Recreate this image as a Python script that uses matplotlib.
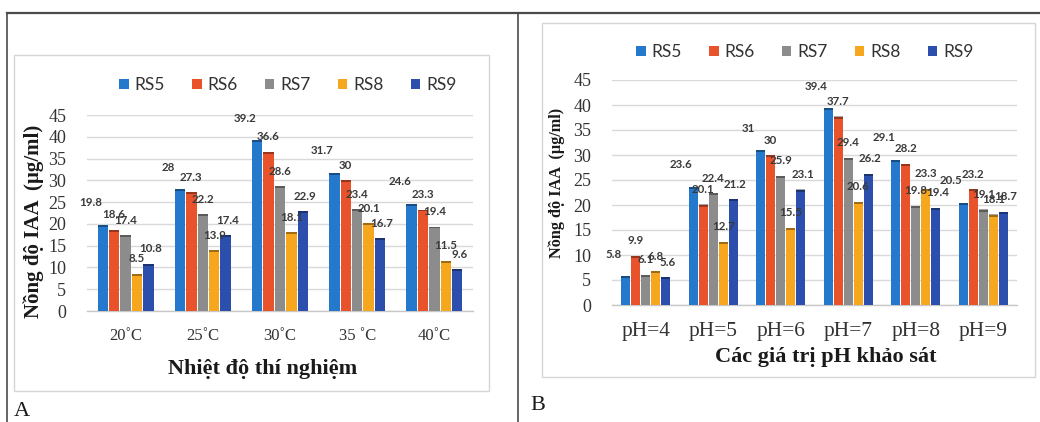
import matplotlib
matplotlib.use("Agg")
import matplotlib.pyplot as plt
from matplotlib.patches import Rectangle, Patch
from matplotlib.lines import Line2D
from matplotlib import font_manager
import numpy as np

# ---------------- data ----------------
series = ["RS5", "RS6", "RS7", "RS8", "RS9"]
colors = ["#2479cc", "#e8532b", "#8c8c8c", "#f7a71e", "#2c4fae"]

temp_labels = ["20˚C", "25˚C", "30˚C", "35 ˚C", "40˚C"]
temp_RS5 = [19.8, 28.0, 39.2, 31.7, 24.6]
temp_RS6 = [18.6, 27.3, 36.6, 30.0, 23.3]
temp_RS7 = [17.4, 22.2, 28.6, 23.4, 19.4]
temp_RS8 = [8.5, 13.9, 18.1, 20.1, 11.5]
temp_RS9 = [10.8, 17.4, 22.9, 16.7, 9.6]

ph_labels = ["pH=4", "pH=5", "pH=6", "pH=7", "pH=8", "pH=9"]
ph_RS5 = [5.8, 23.6, 31.0, 39.4, 29.1, 20.5]
ph_RS6 = [9.9, 20.1, 30.0, 37.7, 28.2, 23.2]
ph_RS7 = [6.1, 22.4, 25.9, 29.4, 19.8, 19.1]
ph_RS8 = [6.8, 12.7, 15.5, 20.6, 23.3, 18.1]
ph_RS9 = [5.6, 21.2, 23.1, 26.2, 19.4, 18.7]

yticks = [0, 5, 10, 15, 20, 25, 30, 35, 40, 45]

# ---------------- fonts ----------------
avail = {f.name for f in font_manager.fontManager.ttflist}
SANS = "Lato" if "Lato" in avail else "DejaVu Sans"
SERIF = "Liberation Serif" if "Liberation Serif" in avail else "DejaVu Serif"

W, H = 1040, 422
DPI = 100
fig = plt.figure(figsize=(W / DPI, H / DPI), dpi=DPI)
fig.patch.set_facecolor("white")


def fx(px):
    return px / W


def fy(py):
    return 1 - py / H


# outer table lines
fig.add_artist(Line2D([fx(7), 1.0], [fy(13), fy(13)], color="#4a4a4a", lw=1.6))
fig.add_artist(Line2D([fx(7), fx(7)], [fy(13), 0], color="#4a4a4a", lw=1.2))
fig.add_artist(Line2D([fx(518), fx(518)], [fy(13), 0], color="#4a4a4a", lw=1.2))

# chart frames
fig.add_artist(Rectangle((fx(14), fy(391)), fx(489) - fx(14), fy(55) - fy(391),
                         transform=fig.transFigure, fill=False, edgecolor="#d6d6d6", lw=1.0))
fig.add_artist(Rectangle((fx(542), fy(377)), fx(1035) - fx(542), fy(23) - fy(377),
                         transform=fig.transFigure, fill=False, edgecolor="#d6d6d6", lw=1.0))

# per-series label offsets (pixels), style only
label_dx = [-12, 0, 0, 0, 2]
label_dy = [22, 15, 15, 15, 15]


def draw_panel(rect, cats, data, xtick_size, ytick_size):
    left, top, right, bottom = rect
    ax = fig.add_axes([fx(left), fy(bottom), fx(right) - fx(left), fy(top) - fy(bottom)])
    n = len(cats)
    x = np.arange(n)
    step = 0.148
    width = 0.135
    for i, (vals, c) in enumerate(zip(data, colors)):
        pos = x + (i - 2) * step
        ax.bar(pos, vals, width=width, color=c, zorder=3, linewidth=0)
        # darker top cap
        ax.bar(pos, [0.45] * n, bottom=np.array(vals) - 0.45, width=width,
               color="black", alpha=0.35, zorder=3.5, linewidth=0)
        for p, v in zip(pos, vals):
            ax.annotate(f"{v:g}", (p, v), xytext=(label_dx[i], label_dy[i]),
                        textcoords="offset pixels", ha="center", va="center",
                        fontsize=8.3, fontweight="bold", family=SANS,
                        color="#3a3a3a", zorder=5)
    ax.set_xlim(-0.5, n - 0.5)
    ax.set_ylim(0, 45)
    ax.set_yticks(yticks)
    ax.set_xticks(x)
    ax.set_xticklabels(cats)
    ax.grid(axis="y", color="#d9d9d9", lw=1.0, zorder=0)
    ax.set_axisbelow(True)
    for s in ["top", "right", "left"]:
        ax.spines[s].set_visible(False)
    ax.spines["bottom"].set_color("#c8c8c8")
    ax.spines["bottom"].set_linewidth(1.0)
    ax.tick_params(axis="both", length=0)
    ax.tick_params(axis="y", pad=15, labelsize=ytick_size, labelcolor="#333333")
    ax.tick_params(axis="x", pad=12, labelsize=xtick_size, labelcolor="#333333")
    for t in ax.get_xticklabels() + ax.get_yticklabels():
        t.set_family(SERIF)
    ax.patch.set_alpha(0)
    return ax


axA = draw_panel((87, 115, 473, 311), temp_labels,
                 [temp_RS5, temp_RS6, temp_RS7, temp_RS8, temp_RS9], 12, 13)
axB = draw_panel((612, 80, 1017, 305), ph_labels,
                 [ph_RS5, ph_RS6, ph_RS7, ph_RS8, ph_RS9], 15.5, 13)

# legends
handles = [Patch(facecolor=c, edgecolor="none") for c in colors]
for cx, cy in [(288, 85), (805, 52)]:
    fig.legend(handles, series, loc="center", bbox_to_anchor=(fx(cx), fy(cy)),
               ncol=5, frameon=False, handlelength=0.55, handleheight=0.55,
               handletextpad=0.35, columnspacing=1.55,
               prop={"family": SANS, "size": 12.5}, labelcolor="#333333")

# axis titles
fig.text(fx(263), fy(369), "Nhiệt độ thí nghiệm", ha="center", va="center",
         family=SERIF, fontweight="bold", fontsize=16, color="#1a1a1a")
fig.text(fx(826), fy(357), "Các giá trị pH khảo sát", ha="center", va="center",
         family=SERIF, fontweight="bold", fontsize=16, color="#1a1a1a")
fig.text(fx(34), fy(221), "Nồng độ IAA  (µg/ml)", ha="center", va="center",
         rotation=90, family=SERIF, fontweight="bold", fontsize=15, color="#1a1a1a")
fig.text(fx(557), fy(183), "Nồng độ IAA  (µg/ml)", ha="center", va="center",
         rotation=90, family=SERIF, fontweight="bold", fontsize=11.7, color="#1a1a1a")

# panel letters
fig.text(fx(14), fy(412), "A", ha="left", va="center", family=SERIF, fontsize=16, color="#1a1a1a")
fig.text(fx(530), fy(405), "B", ha="left", va="center", family=SERIF, fontsize=16, color="#1a1a1a")

fig.savefig("out.png", dpi=DPI, facecolor="white")
